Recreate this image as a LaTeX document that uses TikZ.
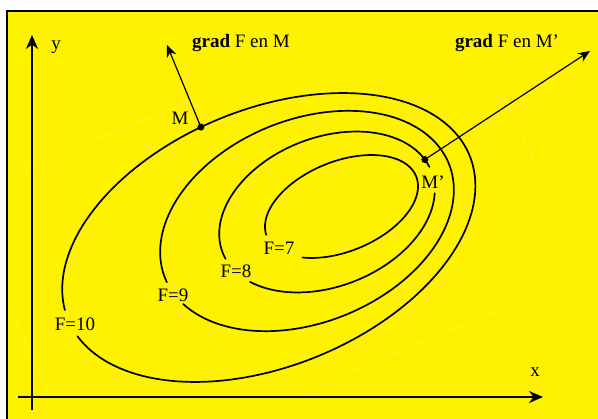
\documentclass[tikz,border=0pt]{standalone}
\usepackage{fontspec}
\setmainfont{Liberation Serif}
\usetikzlibrary{arrows.meta}

\begin{document}
\begin{tikzpicture}[
    x=1pt, y=-1pt,
    frame/.style={draw=black, line width=1.3pt, fill=yellow},
    axis/.style={-{Stealth[length=14pt, width=12pt]}, line width=2pt},
    contour/.style={line width=1.7pt, line join=round, line cap=round},
    gradArrow/.style={-{Stealth[length=12pt, width=10pt]}, line width=1.2pt},
    ghost/.style={dotted, line width=0.8pt, white!55!yellow},
    dot/.style={circle, fill=black, inner sep=0pt, minimum size=7pt},
    lbl/.style={font=\fontsize{19}{22}\selectfont, inner sep=0pt},
  ]
    \useasboundingbox (0,0) rectangle (598,419);

    % Background
    \draw[frame] (7,11) rectangle (620,440);

    % Faint construction lines
    \draw[ghost] (10,175) -- (200,97);
    \draw[ghost] (497,82) -- (543,180);
    \draw[ghost] (307,390) -- (543,292);
    \draw[ghost] (10,308) -- (48,390);

    % Axes
    \coordinate (yBot) at (32,410);
    \coordinate (yTop) at (32,35);
    \coordinate (xLeft) at (18,397);
    \coordinate (xRight) at (543,397);
    \draw[axis] (yBot) -- (yTop);
    \draw[axis] (xLeft) -- (xRight);
    \node[lbl] (ylab) at (56,47) {y};
    \node[lbl] (xlab) at (535,372) {x};

    % Level curves (tilted ellipses, open where the labels sit)
    \begin{scope}[shift={(268.8,237.5)}, rotate=22.2]
      \draw[contour] plot[domain=184.4:531.4, samples=160] ({216.9*cos(\x)}, {128.5*sin(\x)});
      \node[dot] (M) at ({216.9*cos(264.4)}, {128.5*sin(264.4)}) {};
    \end{scope}
    \begin{scope}[shift={(307,221)}, rotate=22]
      \draw[contour] plot[domain=177.6:522.4, samples=160] ({153*cos(\x)}, {101.5*sin(\x)});
    \end{scope}
    \begin{scope}[shift={(327,212)}, rotate=21.3]
      \draw[contour] plot[domain=16.9:150.1, samples=80] ({112*cos(\x)}, {74.5*sin(\x)});
      \draw[contour] plot[domain=174.8:356.3, samples=100] ({112*cos(\x)}, {74.5*sin(\x)});
      \node[dot] (Mp) at ({112*cos(349.7)}, {74.5*sin(349.7)}) {};
    \end{scope}
    \begin{scope}[shift={(341.5,206.5)}, rotate=22]
      \draw[contour] plot[domain=182.4:493.4, samples=120] ({80.5*cos(\x)}, {45*sin(\x)});
    \end{scope}

    \foreach \px/\py/\val in {75/324/10, 173/295/9, 236/271/8, 279/248/7} {
      \node[lbl] (F\val) at (\px,\py) {F=\val};
    }

    % Points and gradients
    \node[lbl] (Mlab) at (180,118) {M};
    \node[lbl] (Mplab) at (433,182) {M'};

    \coordinate (gM) at (167,45);
    \coordinate (gMp) at (590,51);
    \draw[gradArrow] (M.center) -- (gM);
    \draw[gradArrow] (Mp.center) -- (gMp);
    \node[lbl] (gMlab) at (241,43) {\textbf{grad} F en M};
    \node[lbl] (gMplab) at (507,43) {\textbf{grad} F en M'};
\end{tikzpicture}
\end{document}
